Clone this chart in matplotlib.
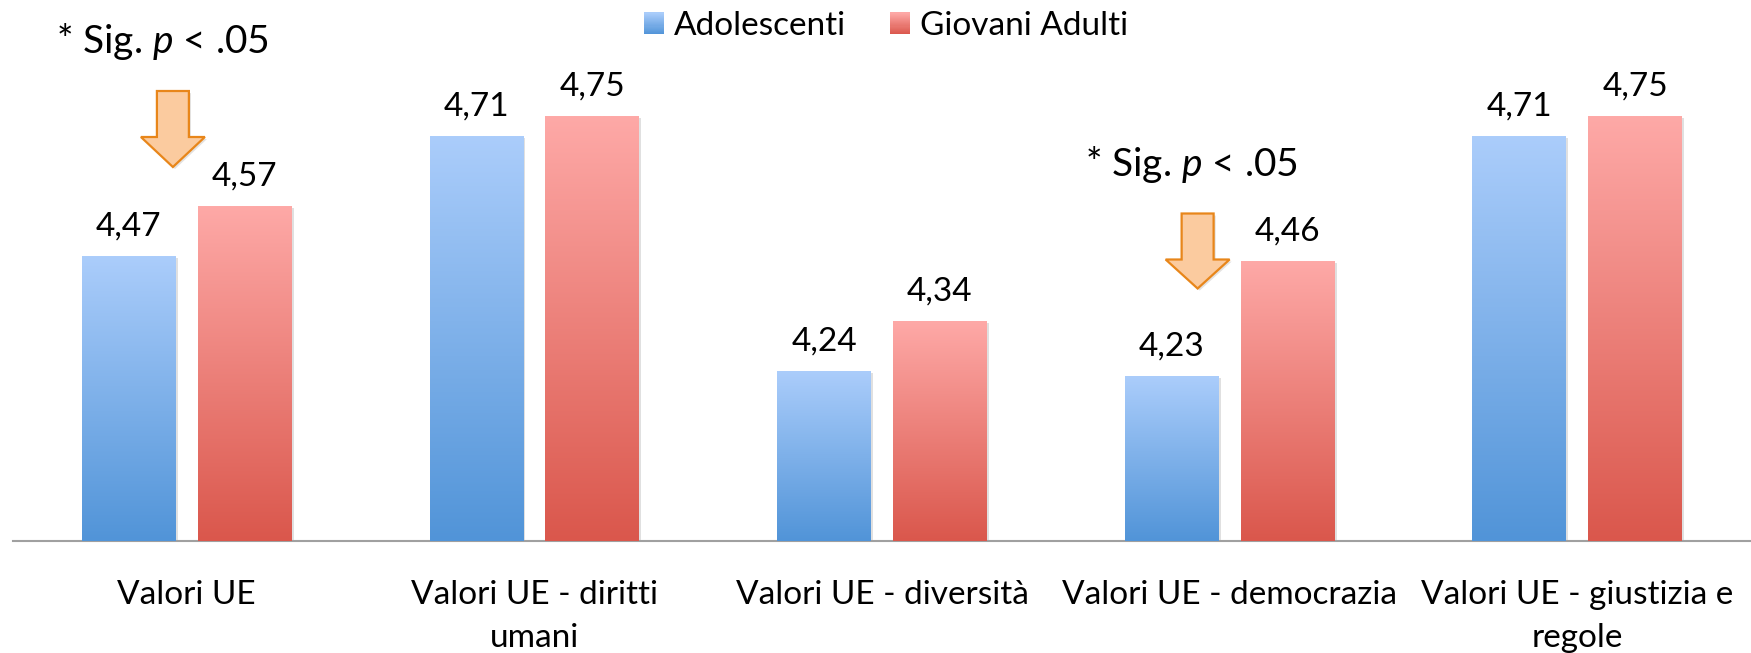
import matplotlib
matplotlib.use("Agg")
import matplotlib.pyplot as plt
import matplotlib.patheffects as pe
from matplotlib.colors import LinearSegmentedColormap
from matplotlib.patches import Polygon, Rectangle
from matplotlib.legend_handler import HandlerBase
import numpy as np

categories = ["Valori UE", "Valori UE - diritti\numani", "Valori UE - diversità",
              "Valori UE - democrazia", "Valori UE - giustizia e\nregole"]
adolescenti = [4.47, 4.71, 4.24, 4.23, 4.71]
giovani_adulti = [4.57, 4.75, 4.34, 4.46, 4.75]
series_names = ["Adolescenti", "Giovani Adulti"]
sig_label = r"* Sig. $\mathit{p}$ < .05"

plt.rcParams['font.family'] = ['Lato', 'DejaVu Sans']
plt.rcParams['mathtext.fontset'] = 'custom'
plt.rcParams['mathtext.it'] = 'Lato:italic'
plt.rcParams['mathtext.rm'] = 'Lato'

W, H = 1751, 653
fig = plt.figure(figsize=(W / 100, H / 100), dpi=100)
ax = fig.add_axes([13 / W, 112 / H, (W - 13) / W, 450 / H])
ax.set_xlim(-0.5, 4.5)
ax.set_ylim(3.9, 4.8)

x = np.arange(len(categories))
bw = 0.27
off = 0.1667
base = 3.9

blue_cm = LinearSegmentedColormap.from_list("b", ["#5194d8", "#abcdfb"])
red_cm = LinearSegmentedColormap.from_list("r", ["#da574c", "#fea9a7"])

shadow = [pe.SimplePatchShadow(offset=(1.5, -1.5), shadow_rgbFace="#000000", alpha=0.12), pe.Normal()]
b1 = ax.bar(x - off, np.array(adolescenti) - base, bw, bottom=base, color="#7fb0ea", zorder=2)
b2 = ax.bar(x + off, np.array(giovani_adulti) - base, bw, bottom=base, color="#ef8680", zorder=2)
for b in (b1, b2):
    for r in b:
        r.set_path_effects(shadow)

grad = np.linspace(0, 1, 256).reshape(-1, 1)
for bars, cm in ((b1, blue_cm), (b2, red_cm)):
    for r in bars:
        x0, y0 = r.get_x(), r.get_y()
        im = ax.imshow(grad, cmap=cm, origin="lower", aspect="auto",
                       extent=[x0, x0 + r.get_width(), y0, y0 + r.get_height()],
                       zorder=3)
        im.set_clip_path(r)

for bars, vals in ((b1, adolescenti), (b2, giovani_adulti)):
    for r, v in zip(bars, vals):
        ax.annotate(f"{v:.2f}".replace(".", ","), (r.get_x() + r.get_width() / 2, v),
                    xytext=(0, 15), textcoords="offset points",
                    ha="center", va="baseline", fontsize=24)

ax.tick_params(axis="x", length=0, pad=28, labelsize=24)
ax.set_xticks(x)
ax.set_xticklabels(categories)
for lbl in ax.get_xticklabels():
    lbl.set_linespacing(1.55)
    lbl.set_multialignment("center")
ax.set_yticks([])
for s in ("left", "right", "top"):
    ax.spines[s].set_visible(False)
ax.spines["bottom"].set_color("#a0a0a0")
ax.spines["bottom"].set_linewidth(1.5)


# significance arrows (block arrows)
def block_arrow(cx, top, neck, tip, shaft_w, head_w):
    pts = [(cx - shaft_w / 2, top), (cx + shaft_w / 2, top), (cx + shaft_w / 2, neck),
           (cx + head_w / 2, neck), (cx, tip), (cx - head_w / 2, neck),
           (cx - shaft_w / 2, neck)]
    ax.add_patch(Polygon(pts, closed=True, facecolor="#fbcb9f", edgecolor="#e8861a",
                         linewidth=1.6, zorder=4, clip_on=False,
                         path_effects=[pe.SimplePatchShadow(offset=(1.5, -1.5), alpha=0.15), pe.Normal()]))


block_arrow(-0.04, 4.80, 4.708, 4.648, 0.092, 0.184)
block_arrow(2.908, 4.555, 4.463, 4.405, 0.092, 0.184)

fig.text(56 / W, 1 - 53 / H, sig_label, fontsize=28, ha="left", va="baseline")
fig.text(1085 / W, 1 - 176 / H, sig_label, fontsize=28, ha="left", va="baseline")


# legend keys with the same vertical gradient as the bars
class GradientHandler(HandlerBase):
    def __init__(self, cmap):
        super().__init__()
        self.cmap = cmap

    def create_artists(self, legend, orig_handle, xdescent, ydescent, width, height, fontsize, trans):
        n = 20
        arts = []
        for i in range(n):
            arts.append(Rectangle((-xdescent, -ydescent + height * i / n), width, height / n + 0.3,
                                  facecolor=self.cmap((i + 0.5) / n), edgecolor="none",
                                  transform=trans))
        return arts


fig.legend([b1, b2], series_names, loc="center", bbox_to_anchor=(886 / W, 1 - 26 / H),
           ncol=2, frameon=False, fontsize=24, handlelength=0.62, handleheight=0.62,
           handletextpad=0.3, columnspacing=1.3, borderpad=0,
           handler_map={b1: GradientHandler(blue_cm), b2: GradientHandler(red_cm)})

fig.savefig("out.png", dpi=100)
